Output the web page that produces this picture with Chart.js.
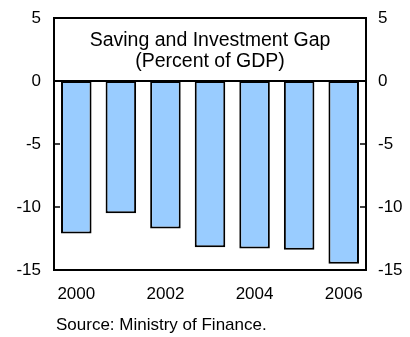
<!DOCTYPE html>
<html>
<head>
<meta charset="utf-8">
<script src="https://cdn.jsdelivr.net/npm/chart.js@4"></script>
<style>
  html, body { margin: 0; padding: 0; background: #ffffff; }
  #wrap { width: 410px; height: 337px; position: relative; }
</style>
</head>
<body>
<div id="wrap"><canvas id="c"></canvas></div>
<script>
// Saving–investment gap, percent of GDP
const years = ['2000', '2001', '2002', '2003', '2004', '2005', '2006'];
const gap = [-12.1, -10.5, -11.7, -13.2, -13.3, -13.4, -14.5];
const yTicks = [5, 0, -5, -10, -15];
const titleLines = ['Saving and Investment Gap', '(Percent of GDP)'];
const sourceNote = 'Source: Ministry of Finance.';

const FONT = "Arial, 'Liberation Sans', sans-serif";

// Frame, zero line, inward tick marks, inner title and source note
const decorations = {
  id: 'decorations',
  afterDatasetsDraw(chart) {
    const { ctx, chartArea: a, scales } = chart;
    const y = scales.y;
    ctx.save();
    ctx.strokeStyle = '#000';
    ctx.lineWidth = 2;
    // zero line
    const y0 = y.getPixelForValue(0);
    ctx.beginPath();
    ctx.moveTo(a.left, y0);
    ctx.lineTo(a.right, y0);
    ctx.stroke();
    // inward ticks on both sides
    ctx.lineWidth = 1.5;
    yTicks.forEach(v => {
      const py = y.getPixelForValue(v);
      ctx.beginPath();
      ctx.moveTo(a.left, py); ctx.lineTo(a.left + 6, py);
      ctx.moveTo(a.right, py); ctx.lineTo(a.right - 6, py);
      ctx.stroke();
    });
    // frame
    ctx.lineWidth = 2;
    ctx.strokeRect(a.left, a.top, a.right - a.left, a.bottom - a.top);
    // title inside the upper band
    ctx.fillStyle = '#000';
    ctx.font = '19.5px ' + FONT;
    ctx.textAlign = 'center';
    ctx.textBaseline = 'alphabetic';
    const cx = (a.left + a.right) / 2;
    const mid = (a.top + y0) / 2;
    ctx.fillText(titleLines[0], cx, mid - 3.5);
    ctx.fillText(titleLines[1], cx, mid + 17.5);
    // source note
    ctx.font = '17px ' + FONT;
    ctx.textAlign = 'left';
    ctx.fillText(sourceNote, a.left + 2, 329.5);
    ctx.restore();
  }
};

// fixed box sizes, no extra label overhang padding
function fixBox(w, h) {
  return function (scale) {
    if (w !== null) scale.width = w;
    if (h !== null) scale.height = h;
    scale.paddingTop = 0;
    scale.paddingBottom = 0;
    scale.paddingLeft = 0;
    scale.paddingRight = 0;
  };
}

new Chart(document.getElementById('c'), {
  type: 'bar',
  data: {
    labels: years,
    datasets: [{
      data: gap,
      backgroundColor: '#99ccff',
      borderColor: '#000000',
      borderWidth: 2,
      borderSkipped: false,
      barPercentage: 0.685,
      categoryPercentage: 1.0
    }]
  },
  options: {
    responsive: true,
    maintainAspectRatio: false,
    animation: false,
    devicePixelRatio: 1,
    layout: { padding: { top: 18, left: 0, right: 0, bottom: 0 } },
    plugins: { legend: { display: false }, tooltip: { enabled: false }, title: { display: false } },
    scales: {
      x: {
        grid: { display: false, drawTicks: false },
        border: { display: false },
        ticks: {
          color: '#000',
          font: { family: FONT, size: 17 },
          padding: 14,
          autoSkip: false,
          maxRotation: 0,
          callback(value, index) { return index % 2 === 0 ? years[index] : ''; }
        },
        afterFit: fixBox(null, 67)
      },
      y: {
        position: 'left',
        min: -15, max: 5,
        grid: { display: false, drawTicks: false },
        border: { display: false },
        ticks: {
          stepSize: 5,
          color: '#000',
          font: { family: FONT, size: 17 },
          padding: 13
        },
        afterFit: fixBox(54, null)
      },
      y2: {
        position: 'right',
        min: -15, max: 5,
        grid: { display: false, drawTicks: false },
        border: { display: false },
        ticks: {
          stepSize: 5,
          color: '#000',
          font: { family: FONT, size: 17 },
          padding: 12
        },
        afterFit: fixBox(44, null)
      }
    }
  },
  plugins: [decorations]
});
</script>
</body>
</html>
